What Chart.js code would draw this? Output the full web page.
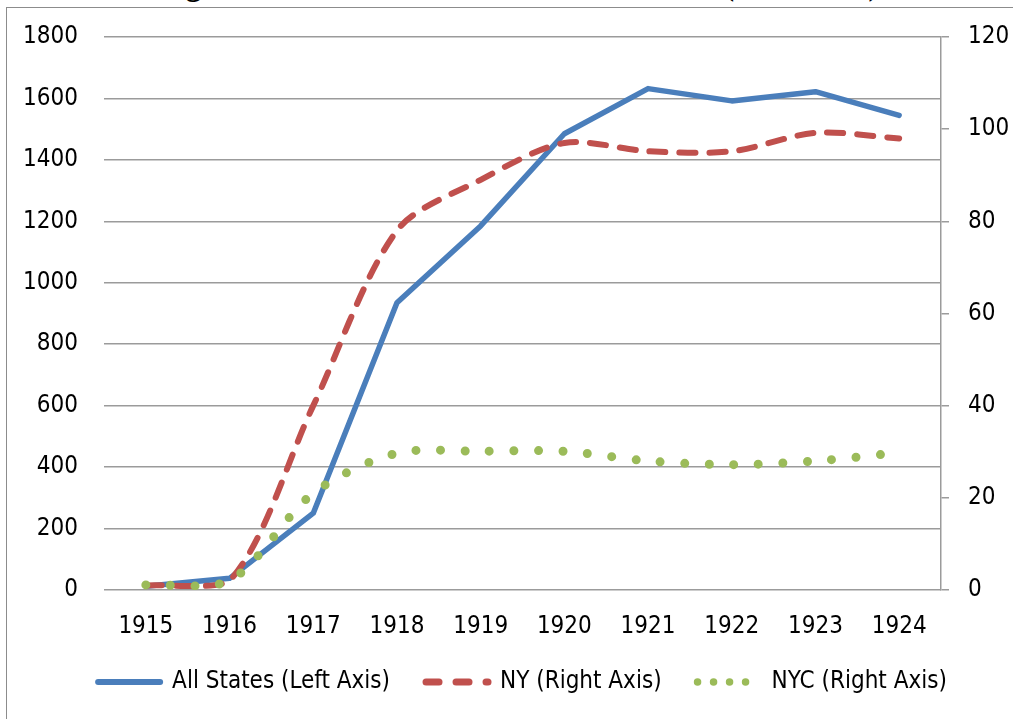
<!DOCTYPE html>
<html>
<head>
<meta charset="utf-8">
<script src="https://cdn.jsdelivr.net/npm/chart.js@4.4.1/dist/chart.umd.min.js"></script>
<style>
  html, body { margin: 0; padding: 0; background: #fff; overflow: hidden; }
  #title {
    position: absolute; left: 12px; top: -30px; width: 1013px;
    text-align: center; font: bold 31px "Liberation Serif", serif;
    line-height: 30px; color: #000; white-space: nowrap;
  }
  #frame {
    position: absolute; left: 6px; top: 7px; width: 1100px; height: 800px;
    border-left: 1.5px solid #8c8c8c; border-top: 1.5px solid #8c8c8c;
  }
  #wrap { position: absolute; left: 0; top: 0; width: 1013px; height: 719px; }
</style>
</head>
<body>
<div id="title">Figure 4: Number of State Member Banks (1915-1924)</div>
<div id="frame"></div>
<div id="wrap"><canvas id="myChart" width="1013" height="719"></canvas></div>
<script>
// values
let years = ["1915", "1916", "1917", "1918", "1919", "1920", "1921", "1922", "1923", "1924"];
let all_states = [12, 38, 250, 935, 1185, 1485, 1632, 1592, 1622, 1545];
let ny = [1, 2, 40, 78, 89, 97, 95.2, 95.2, 99.2, 98];
let nyc = [1.1, 2, 21, 29.7, 30.1, 30.1, 28, 27.2, 28, 29.8];

let left_ticks = [0, 200, 400, 600, 800, 1000, 1200, 1400, 1600, 1800];
let right_ticks = [0, 20, 40, 60, 80, 100, 120];

const FONT = "'DejaVu Sans Condensed', 'Liberation Sans Narrow', sans-serif";
const GRID = "#9b9b9b";

// legend samples use shorter dashes than the plot lines
let legend_dash = {
  0: { dash: [], width: 6 },
  1: { dash: [13, 17], width: 7 },
  2: { dash: [0, 16], width: 7.5 },
};

// legend sits a little right of centre and close under the year labels
let shift_legend = {
  id: "shift_legend",
  afterLayout: (chart) => {
    chart.legend.left += 16;
    chart.legend.right += 16;
    chart.legend.top -= 8;
    chart.legend.bottom -= 8;
  },
};

// y axes: no extra room above / below for the end labels
let fit_y = (width) => (scale) => {
  scale.width = width;
  scale.paddingTop = 0;
  scale.paddingBottom = 0;
};

const ctx = document.getElementById("myChart").getContext("2d");

const myChart = new Chart(ctx, {
  type: "line",
  data: {
    labels: years,
    datasets: [
      {
        label: "All States (Left Axis)",
        data: all_states,
        yAxisID: "y",
        borderColor: "#4a7ebb",
        borderWidth: 5.5,
        borderCapStyle: "round",
        borderJoinStyle: "round",
        tension: 0,
        order: 3,
      },
      {
        label: "NY (Right Axis)",
        data: ny,
        yAxisID: "y1",
        borderColor: "#c0504d",
        borderWidth: 6,
        borderDash: [16, 14],
        borderCapStyle: "round",
        tension: 0.3,
        order: 2,
      },
      {
        label: "NYC (Right Axis)",
        data: nyc,
        yAxisID: "y1",
        borderColor: "#9bbb59",
        borderWidth: 9,
        borderDash: [0, 24.5],
        borderCapStyle: "round",
        tension: 0.3,
        order: 1,
      },
    ],
  },
  plugins: [shift_legend],
  options: {
    responsive: false,
    animation: false,
    layout: { padding: { top: 37, bottom: 7, left: 0, right: 0 } },
    elements: { point: { radius: 0, hoverRadius: 0 } },
    plugins: {
      tooltip: { enabled: false },
      legend: {
        position: "bottom",
        labels: {
          usePointStyle: true,
          pointStyle: "line",
          pointStyleWidth: 62,
          padding: 36,
          color: "#000",
          font: { family: FONT, size: 24 },
          sort: (a, b) => a.datasetIndex - b.datasetIndex,
          generateLabels: (chart) => {
            let items = Chart.defaults.plugins.legend.labels.generateLabels(chart);
            items.forEach((el) => {
              el.lineDash = legend_dash[el.datasetIndex].dash;
              el.lineWidth = legend_dash[el.datasetIndex].width;
              el.lineCap = "round";
              el.pointStyle = "line";
            });
            return items;
          },
        },
      },
    },
    scales: {
      x: {
        type: "category",
        offset: true,
        afterFit: (scale) => { scale.height = 52; },
        grid: { display: false, drawTicks: false },
        border: { display: false },
        ticks: { color: "#000", padding: 22, font: { family: FONT, size: 24 } },
      },
      y: {
        position: "left",
        min: 0,
        max: 1800,
        afterFit: fit_y(104),
        afterBuildTicks: (scale) => { scale.ticks = left_ticks.map((v) => ({ value: v })); },
        grid: { color: GRID, lineWidth: 1.5, drawTicks: false },
        border: { display: false },
        ticks: {
          color: "#000",
          padding: 26,
          font: { family: FONT, size: 24 },
          callback: (v) => String(v),
        },
      },
      y1: {
        position: "right",
        min: 0,
        max: 120,
        afterFit: fit_y(72),
        afterBuildTicks: (scale) => { scale.ticks = right_ticks.map((v) => ({ value: v })); },
        grid: { drawOnChartArea: false, color: GRID, lineWidth: 1.5, tickLength: 8 },
        border: { display: true, color: GRID, width: 1.5 },
        ticks: {
          color: "#000",
          padding: 19,
          font: { family: FONT, size: 24 },
          callback: (v) => String(v),
        },
      },
    },
  },
});
</script>
</body>
</html>
